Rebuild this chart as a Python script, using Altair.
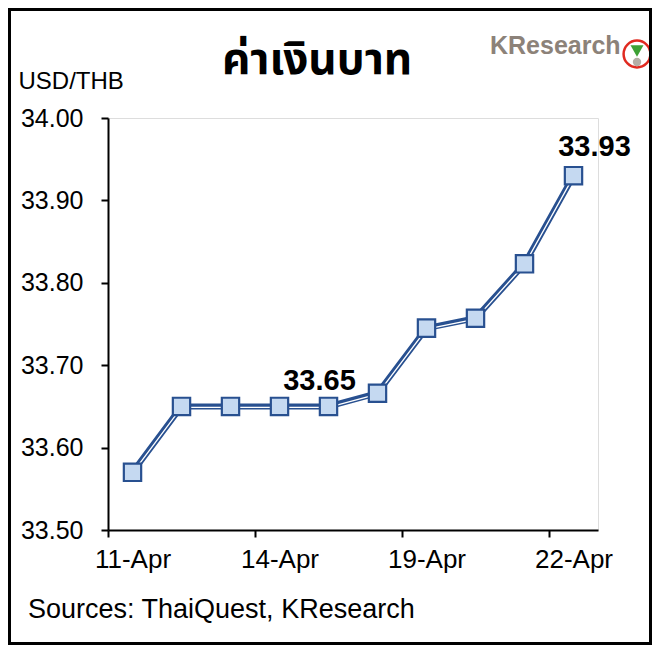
import altair as alt
import pandas as pd

# ---- data ----
dates = ["11-Apr", "12-Apr", "13-Apr", "14-Apr", "15-Apr",
         "18-Apr", "19-Apr", "20-Apr", "21-Apr", "22-Apr"]
values = [33.57, 33.65, 33.65, 33.65, 33.65,
          33.666, 33.745, 33.757, 33.823, 33.93]
y_ticks = [33.50, 33.60, 33.70, 33.80, 33.90, 34.00]
labeled_points = [4, 9]

df = pd.DataFrame({"idx": list(range(len(dates))), "date": dates, "value": values})

W, H = 490, 412
FONT = "Liberation Sans, Arial, sans-serif"
BLUE = "#285090"

band = W / len(dates)
x_tick_vals = [i - 0.5 for i in range(0, len(dates), 3)]
js_dates = "[" + ",".join("'" + d + "'" for d in dates) + "]"

x_enc = alt.X(
    "idx:Q",
    scale=alt.Scale(domain=[-0.5, len(dates) - 0.5], nice=False, zero=False),
    axis=alt.Axis(
        values=x_tick_vals,
        labelExpr=js_dates + "[round(datum.value + 0.5)]",
        labelOffset=band / 2,
        labelFlush=False, labelOverlap=False, labelBound=False,
        labelFontSize=26, labelFont=FONT, labelColor="black",
        labelBaseline="alphabetic", labelPadding=30,
        tickSize=7, tickColor="black", tickWidth=2,
        domainColor="black", domainWidth=2,
        grid=False, title=None,
    ),
)
y_enc = alt.Y(
    "value:Q",
    scale=alt.Scale(domain=[33.5, 34.0], nice=False, zero=False),
    axis=alt.Axis(
        values=y_ticks, format=".2f",
        labelFontSize=25, labelFont=FONT, labelColor="black", labelPadding=18,
        tickSize=7, tickColor="black", tickWidth=2,
        domainColor="black", domainWidth=2, grid=False,
        title="USD/THB", titleAngle=0, titleAlign="left", titleBaseline="alphabetic",
        titleX=-90, titleY=-30, titleFont=FONT, titleFontSize=24,
        titleFontWeight="normal", titleColor="black",
    ),
)

base = alt.Chart(df)
line_outer = base.mark_line(color=BLUE, strokeWidth=6).encode(x=x_enc, y=y_enc)
line_inner = base.mark_line(color="white", strokeWidth=1.3, yOffset=0.9).encode(x="idx:Q", y="value:Q")
pts = base.mark_point(shape="square", size=300, filled=True, fill="#C5D9F1",
                      stroke=BLUE, strokeWidth=2.2, opacity=1).encode(x="idx:Q", y="value:Q")

lab_a = base.transform_filter(alt.datum.idx == labeled_points[0]).mark_text(
    font=FONT, fontSize=29, fontWeight="bold", color="black",
    align="center", baseline="alphabetic", dx=-9, dy=-16
).encode(x="idx:Q", y="value:Q", text=alt.Text("value:Q", format=".2f"))
lab_b = base.transform_filter(alt.datum.idx == labeled_points[1]).mark_text(
    font=FONT, fontSize=29, fontWeight="bold", color="black",
    align="center", baseline="alphabetic", dx=21, dy=-20
).encode(x="idx:Q", y="value:Q", text=alt.Text("value:Q", format=".2f"))

one = pd.DataFrame({"k": [0]})
deco = alt.Chart(one)
title = deco.mark_text(font="Noto Sans Thai, Loma, Garuda, Noto Sans, sans-serif",
                       fontSize=44, fontWeight="bold", color="black",
                       align="center", baseline="alphabetic").encode(
    x=alt.value(209), y=alt.value(-44), text=alt.value("ค่าเงินบาท"))
logo = deco.mark_text(font=FONT, fontSize=25, fontWeight="bold", color="#8C8279",
                      align="left", baseline="alphabetic").encode(
    x=alt.value(382), y=alt.value(-64), text=alt.value("KResearch"))
logo_ring = deco.mark_point(shape="circle", size=720, filled=True, fill="white",
                            stroke="#E02A20", strokeWidth=2.5, opacity=1).encode(
    x=alt.value(529), y=alt.value(-64))
logo_base = deco.mark_point(shape="circle", size=70, filled=True,
                            color="#B5AEA6", opacity=1).encode(
    x=alt.value(529), y=alt.value(-56))
logo_leaf = deco.mark_point(shape="triangle-down", size=170, filled=True,
                            color="#3DA135", opacity=1).encode(
    x=alt.value(529), y=alt.value(-67))
source = deco.mark_text(font=FONT, fontSize=27, color="black",
                        align="left", baseline="alphabetic").encode(
    x=alt.value(-80), y=alt.value(500), text=alt.value("Sources: ThaiQuest, KResearch"))
frame = deco.mark_rect(filled=False, stroke="black", strokeWidth=3).encode(
    x=alt.value(-98.5), x2=alt.value(542.5), y=alt.value(-108.5), y2=alt.value(525.5))

chart = alt.layer(
    line_outer, line_inner, pts, lab_a, lab_b,
    title, logo, logo_ring, logo_base, logo_leaf, source, frame
).properties(
    width=W, height=H,
    autosize=alt.AutoSizeParams(type="none"),
    padding={"left": 100, "top": 110, "right": 54, "bottom": 115},
).configure_view(stroke=None).configure(background="white")

chart.save("out.html", embed_options={"renderer": "svg", "actions": False})
